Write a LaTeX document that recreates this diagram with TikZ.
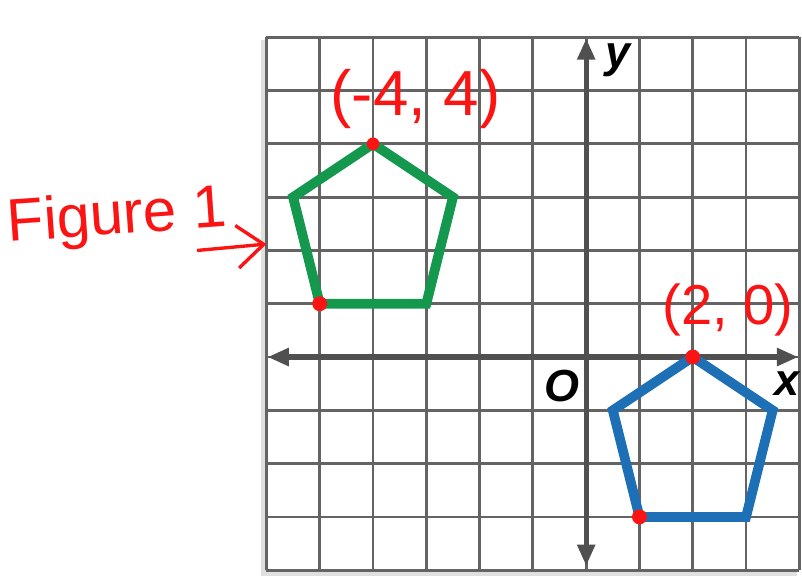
\documentclass[tikz,border=0pt]{standalone}
\usepackage{fontspec}
\setsansfont{Liberation Sans}
\usetikzlibrary{arrows.meta,positioning}
\definecolor{gridgray}{RGB}{100,100,100}
\definecolor{axisgray}{RGB}{80,80,80}
\definecolor{figgreen}{RGB}{20,152,78}
\definecolor{figblue}{RGB}{30,112,182}
\definecolor{inkred}{RGB}{250,20,20}
\tikzset{
  gridline/.style={gridgray,line width=1.5pt},
  axisline/.style={axisgray,line width=2.8pt,{Triangle[length=4mm,width=3.2mm]}-{Triangle[length=4mm,width=3.2mm]}},
  axislabel/.style={font=\sffamily\bfseries\itshape\fontsize{24}{24}\selectfont},
  pentagon/.style={line width=5.2pt,line join=miter},
  ink/.style={inkred,font=\sffamily\fontsize{#1}{#1}\selectfont},
  inkdot/.style={inkred},
}
\begin{document}
\begin{tikzpicture}
\useasboundingbox (-11,-4.13) rectangle (4.05,6.70);
% paper with its shadow
\fill[black!12] (-6.1,-4.1) rectangle (3.95,5.95);
\fill[white] (-6,-4) rectangle (4,6);
\draw[gridline] (-6,-4) grid (4,6);
% axes
\coordinate (xl) at (-5.98,0);
\coordinate (xr) at (3.98,0);
\coordinate (yt) at (0,5.98);
\coordinate (yb) at (0,-3.92);
\draw[axisline] (xl) -- (xr);
\draw[axisline] (yb) -- (yt);
\node[axislabel] (ylab) at (0.6,5.57) {y};
\node[axislabel] (xlab) at (3.77,-0.5) {x};
\node[axislabel] (olab) at (-0.45,-0.55) {O};
% figure 1
\coordinate (g1) at (-4,4);
\coordinate (g2) at (-2.5,3);
\coordinate (g3) at (-3,1);
\coordinate (g4) at (-5,1);
\coordinate (g5) at (-5.5,3);
\draw[pentagon,figgreen] (g1) -- (g2) -- (g3) -- (g4) -- (g5) -- cycle;
% its image
\coordinate (b1) at (2,0);
\coordinate (b2) at (3.5,-1);
\coordinate (b3) at (3,-3);
\coordinate (b4) at (1,-3);
\coordinate (b5) at (0.5,-1);
\draw[pentagon,figblue] (b1) -- (b2) -- (b3) -- (b4) -- (b5) -- cycle;
% marks in red ink
\fill[inkdot] (g1) circle (0.12);
\fill[inkdot] (g4) circle (0.14);
\fill[inkdot] (b1) circle (0.14);
\fill[inkdot] (b4) circle (0.14);
\node[ink=34] (gpt) at (-3.2,4.85) {(-4, 4)};
\node[ink=30] (bpt) at (2.66,0.88) {(2, 0)};
\node[ink=32,rotate=4] (figname) at (-8.8,2.6) {Figure 1};
\coordinate (arrtail) at (-7.3,2.0);
\coordinate (arrhead) at (-6.0,2.12);
\draw[inkred,line width=1.8pt,-{Straight Barb[length=5mm,width=8mm]}] (arrtail) -- (arrhead);
\end{tikzpicture}
\end{document}
